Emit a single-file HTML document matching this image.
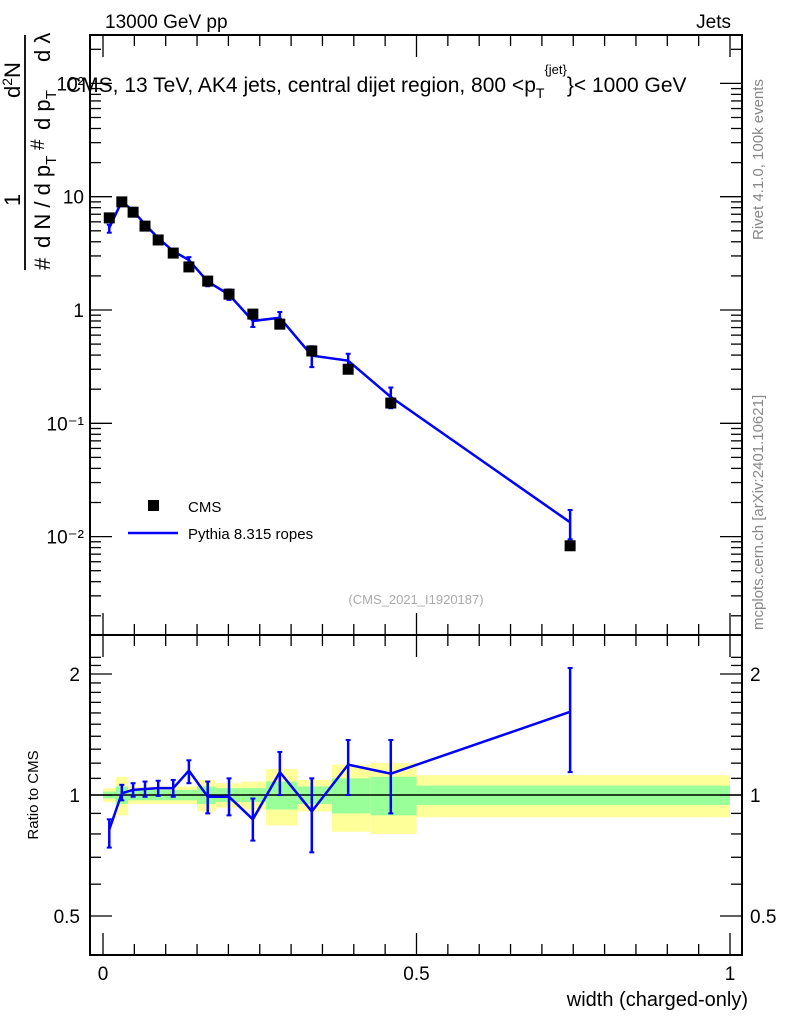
<!DOCTYPE html>
<html><head><meta charset="utf-8"><style>
body{margin:0;background:#fff;}
svg text{font-family:"Liberation Sans",sans-serif;}
</style></head><body>
<svg id="chart" width="786" height="1024" viewBox="0 0 786 1024" xmlns="http://www.w3.org/2000/svg">
<g id="bands"></g>
<g id="axes"></g>
<g id="marks"></g>
<text x="105" y="28" font-size="19">13000 GeV pp</text>
<text x="731" y="28" font-size="19" text-anchor="end">Jets</text>
<text x="66" y="92" font-size="21">CMS, 13 TeV, AK4 jets, central dijet region, 800 &lt;p<tspan font-size="14" dy="6">T</tspan><tspan font-size="13" dy="-24">{jet}</tspan><tspan dy="18">}&lt; 1000 GeV</tspan></text>
<text x="416" y="604" font-size="13" fill="#aaa" text-anchor="middle">(CMS_2021_I1920187)</text>
<text transform="translate(763,240) rotate(-90)" font-size="15" fill="#888">Rivet 4.1.0,  100k events</text>
<text transform="translate(763,630) rotate(-90)" font-size="15" fill="#888">mcplots.cern.ch [arXiv:2401.10621]</text>
<g transform="rotate(-90)" font-size="22">
<text x="-270" y="50">#</text>
<text x="-248" y="50">d N / d p<tspan font-size="15" dy="6">T</tspan></text>
<text x="-150" y="44" font-size="19">#</text>
<text x="-130" y="50">d p<tspan font-size="15" dy="6">T</tspan></text>
<text x="-62" y="50">d λ</text>
<text x="-206" y="20">1</text>
<text x="-98" y="20">d<tspan font-size="14" dy="-8">2</tspan><tspan dy="8">N</tspan></text>
<line x1="-270" y1="25" x2="-35" y2="25" stroke="#000" stroke-width="1.8"/>
</g>
<text transform="translate(38,795) rotate(-90)" font-size="15" text-anchor="middle">Ratio to CMS</text>
<text x="748" y="1006" font-size="20" text-anchor="end">width (charged-only)</text>
<g>
<rect x="148" y="500" width="11" height="11" fill="#000"/>
<text x="188" y="512" font-size="15">CMS</text>
<line x1="128" y1="533" x2="178" y2="533" stroke="#00f" stroke-width="2.5"/>
<text x="188" y="539" font-size="15">Pythia 8.315 ropes</text>
</g>
</svg>
<script>
const xCenters=[0.01,0.03,0.048,0.067,0.088,0.112,0.137,0.167,0.201,0.239,0.282,0.333,0.391,0.459,0.745];
const binEdges=[0,0.02,0.04,0.055,0.075,0.1,0.125,0.15,0.18,0.22,0.26,0.31,0.365,0.427,0.5,1.0];
const cmsValues=[6.5,9.0,7.3,5.5,4.15,3.18,2.4,1.8,1.38,0.92,0.75,0.435,0.30,0.151,0.0083];
const ratioValues=[0.82,1.01,1.03,1.035,1.04,1.04,1.15,0.99,0.99,0.87,1.14,0.91,1.19,1.13,1.61];
const ratioLo=[0.74,0.97,0.99,0.99,0.995,0.99,1.07,0.90,0.89,0.77,1.0,0.72,1.0,0.9,1.14];
const ratioHi=[0.87,1.06,1.07,1.08,1.085,1.09,1.22,1.08,1.10,0.98,1.28,1.10,1.37,1.37,2.07];
const yellowHalf=[0.04,0.11,0.05,0.05,0.05,0.05,0.05,0.09,0.07,0.08,0.16,0.09,0.19,0.2,0.12];
const greenHalf=[0.02,0.05,0.03,0.03,0.03,0.03,0.03,0.05,0.04,0.04,0.08,0.05,0.1,0.11,0.055];
const mainTicks=[0.01,0.1,1,10,100];
const mainTickLabels=["10⁻²","10⁻¹","1","10","10²"];
const ratioTicks=[0.5,1,2];
const ratioTickLabels=["0.5","1","2"];
const xTicks=[0,0.5,1];
const xTickLabels=["0","0.5","1"];

const NS="http://www.w3.org/2000/svg";
const L=90,R=742,T=35,M=635,B=955;
const X=v=>103+627*v;
const Y=v=>310-113.3*Math.log10(v);
const RY=v=>795-402*Math.log10(v);
function mk(tag,attrs,parent){const e=document.createElementNS(NS,tag);for(const k in attrs)e.setAttribute(k,attrs[k]);parent.appendChild(e);return e;}
const bands=document.getElementById('bands'),axes=document.getElementById('axes'),marks=document.getElementById('marks');

for(let i=0;i<yellowHalf.length;i++){
 const x1=X(binEdges[i]),x2=X(binEdges[i+1]);
 let r=mk('rect',{x:x1,y:RY(1+yellowHalf[i]),width:x2-x1,height:RY(1-yellowHalf[i])-RY(1+yellowHalf[i]),fill:'#ffff99'},bands);
 
 
 let g=mk('rect',{x:x1,y:RY(1+greenHalf[i]),width:x2-x1,height:RY(1-greenHalf[i])-RY(1+greenHalf[i]),fill:'#99ff99'},bands);
 
 
}
mk('line',{x1:L,y1:RY(1),x2:R,y2:RY(1),stroke:'#000','stroke-width':1.5},axes);
mk('rect',{x:L,y:T,width:R-L,height:M-T,fill:'none',stroke:'#000','stroke-width':2},axes);
mk('rect',{x:L,y:M,width:R-L,height:B-M,fill:'none',stroke:'#000','stroke-width':2},axes);
for(let d=-3;d<=2;d++)for(let k=1;k<10;k++){const v=k*Math.pow(10,d);const y=Y(v);if(y<T||y>M)continue;const len=k==1?22:11;
 mk('line',{x1:L,y1:y,x2:L+len,y2:y,stroke:'#000','stroke-width':1.3},axes);mk('line',{x1:R,y1:y,x2:R-len,y2:y,stroke:'#000','stroke-width':1.3},axes);}
mainTicks.forEach((v,i)=>{const t=mk('text',{x:L-6,y:Y(v)+7,'font-size':19,'text-anchor':'end'},axes);t.textContent=mainTickLabels[i];
 
 });
for(let k=4;k<=22;k++){const v=k/10;if(v>2.3)break;const y=RY(v);if(y<M||y>B)continue;const len=(v==0.5||v==1||v==2)?22:11;
 mk('line',{x1:L,y1:y,x2:L+len,y2:y,stroke:'#000','stroke-width':1.3},axes);mk('line',{x1:R,y1:y,x2:R-len,y2:y,stroke:'#000','stroke-width':1.3},axes);}
ratioTicks.forEach((v,i)=>{let t=mk('text',{x:L-10,y:RY(v)+7,'font-size':19,'text-anchor':'end'},axes);t.textContent=ratioTickLabels[i];
 
 
 let t2=mk('text',{x:R+8,y:RY(v)+7,'font-size':19},axes);t2.textContent=ratioTickLabels[i];
 
 });
for(let k=0;k<=20;k++){const v=k*0.05;const x=X(v);const len=(k%10==0)?22:11;
 [[T,1],[M,-1],[M,1],[B,-1]].forEach(([y0,s])=>mk('line',{x1:x,y1:y0,x2:x,y2:y0+s*len,stroke:'#000','stroke-width':1.3},axes));}
xTicks.forEach((v,i)=>{let t=mk('text',{x:X(v),y:980,'font-size':19,'text-anchor':'middle'},axes);t.textContent=xTickLabels[i];
 
 });

const py=cmsValues.map((c,i)=>c*ratioValues[i]);
let pl=mk('polyline',{points:xCenters.map((x,i)=>X(x)+','+Y(py[i])).join(' '),fill:'none',stroke:'#00f','stroke-width':2.5},marks);


let rl=mk('polyline',{points:xCenters.map((x,i)=>X(x)+','+RY(ratioValues[i])).join(' '),fill:'none',stroke:'#00f','stroke-width':2.5},marks);


xCenters.forEach((xv,i)=>{const x=X(xv);
 const eb=(y1,y2)=>{mk('line',{x1:x,y1:y1,x2:x,y2:y2,stroke:'#00f','stroke-width':2.5},marks);mk('line',{x1:x-2.5,y1:y1,x2:x+2.5,y2:y1,stroke:'#00f','stroke-width':2},marks);mk('line',{x1:x-2.5,y1:y2,x2:x+2.5,y2:y2,stroke:'#00f','stroke-width':2},marks);};
 eb(Y(cmsValues[i]*ratioHi[i]),Y(cmsValues[i]*ratioLo[i]));
 eb(RY(ratioHi[i]),RY(ratioLo[i]));
 let s=mk('rect',{x:x-5.5,y:Y(cmsValues[i])-5.5,width:11,height:11,fill:'#000'},marks);
 
 
});
</script>
</body></html>
